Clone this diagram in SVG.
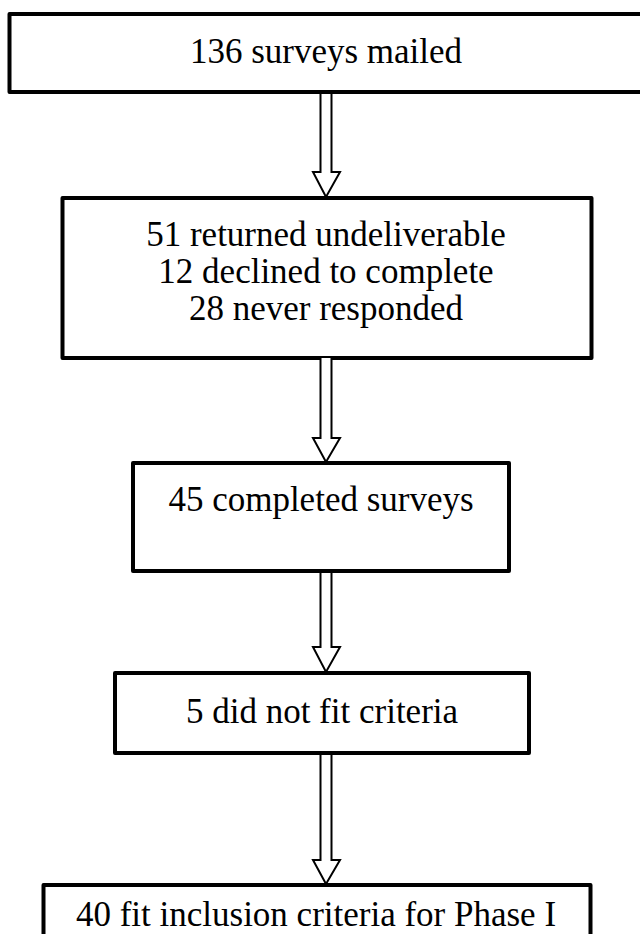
<svg xmlns="http://www.w3.org/2000/svg" width="640" height="934" viewBox="0 0 640 934">
<style>
.box{fill:#fff;stroke:#000;stroke-width:4;stroke-linejoin:round}
.arr{fill:#fff;stroke:#000;stroke-width:2;stroke-linejoin:miter}
.t{font-family:"Liberation Serif","Times New Roman",serif;font-size:35px;fill:#000;text-anchor:middle}
</style>
<rect width="640" height="934" fill="#fff"/>
<g id="n1"><rect class="box" x="9.5" y="14" width="640" height="78"/><text class="t" x="326" y="63">136 surveys mailed</text></g>
<g id="n2"><rect class="box" x="62.5" y="198" width="529" height="160"/><text class="t" x="326" y="246">51 returned undeliverable</text><text class="t" x="326" y="283">12 declined to complete</text><text class="t" x="326" y="320">28 never responded</text></g>
<g id="n3"><rect class="box" x="133" y="463" width="376" height="108"/><text class="t" x="321" y="511">45 completed surveys</text></g>
<g id="n4"><rect class="box" x="115" y="673" width="414" height="80"/><text class="t" x="322" y="723">5 did not fit criteria</text></g>
<g id="n5"><rect class="box" x="43.5" y="885" width="547" height="80"/><text class="t" x="316" y="926">40 fit inclusion criteria for Phase I</text></g>
<g id="connectors">
<polygon class="arr" points="320.5,93 331.5,93 331.5,172 340,172 326,197 313,172 320.5,172"/>
<polygon class="arr" points="320.5,357 331.5,357 331.5,438 340,438 326,462 313,438 320.5,438"/>
<polygon class="arr" points="320.5,572 331.5,572 331.5,647 340,647 326,672 313,647 320.5,647"/>
<polygon class="arr" points="320.5,754 331.5,754 331.5,860 340,860 326,884 313,860 320.5,860"/>
</g>
</svg>
